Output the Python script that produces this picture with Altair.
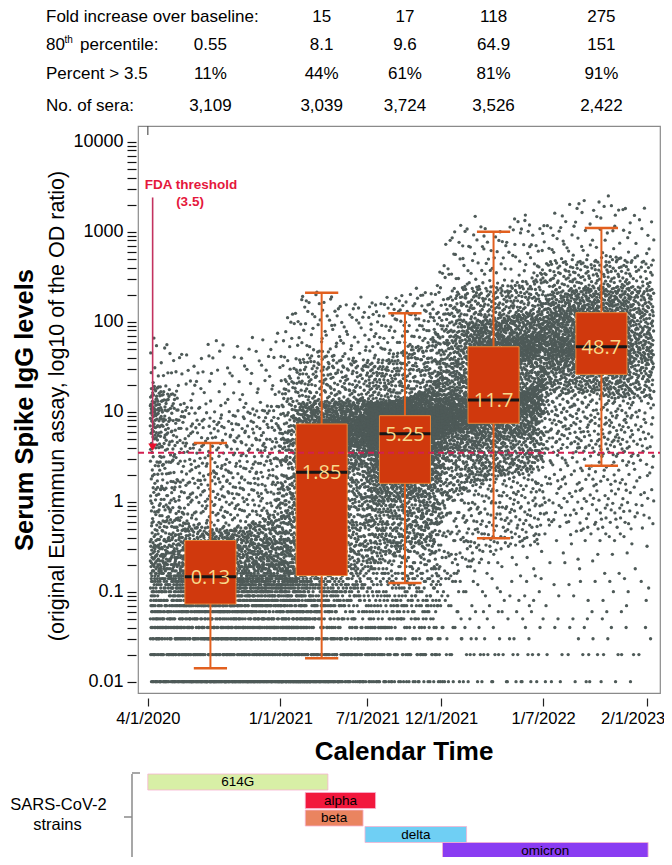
import altair as alt
import numpy as np
import pandas as pd

alt.data_transformers.disable_max_rows()

ORIGIN = pd.Timestamp("2020-04-01")


def to_day(s):
    return float((pd.Timestamp(s) - ORIGIN).days)


# ---------------- summary table above the plot ----------------
fold_increase = ["", "15", "17", "118", "275"]
percentile_80 = ["0.55", "8.1", "9.6", "64.9", "151"]
percent_above = ["11%", "44%", "61%", "81%", "91%"]
n_sera = ["3,109", "3,039", "3,724", "3,526", "2,422"]

# ---------------- box summaries per period ----------------
box_centers = ["2020-08-09", "2021-03-28", "2021-09-17", "2022-03-20", "2022-10-30"]
box_q1 = [0.073, 0.151, 1.6, 7.43, 26.0]
box_median = [0.147, 2.12, 5.7, 13.5, 52.7]
box_q3 = [0.37, 7.3, 9.03, 52.7, 126.0]
whisker_low = [0.0141, 0.0182, 0.125, 0.392, 2.51]
whisker_high = [4.49, 210.0, 124.0, 1000.0, 1100.0]
median_labels = ["0.13", "1.85", "5.25", "11.7", "48.7"]

# ---------------- strains ----------------
strain_names = ["614G", "alpha", "beta", "delta", "omicron"]
strain_start = ["2020-04-01", "2021-02-22", "2021-02-22", "2021-06-26", "2021-12-04"]
strain_end = ["2021-04-10", "2021-07-18", "2021-06-22", "2022-01-23", "2023-02-04"]
strain_colors = ["#d8efa6", "#f2183d", "#ea8460", "#6fcff4", "#8a3cf2"]

# ---------------- axis ticks ----------------
x_tick_dates = ["2020-04-01", "2021-01-01", "2021-07-01", "2021-12-01", "2022-07-01", "2023-02-01"]
x_tick_labels = ["4/1/2020", "1/1/2021", "7/1/2021", "12/1/2021", "1/7/2022", "2/1/2023"]
y_major = [0.01, 0.1, 1, 10, 100, 1000, 10000]
y_major_labels = ["0.01", "0.1", "1", "10", "100", "1000", "10000"]

# ---------------- scatter cloud: monthly distribution ----------------
month_edges = [
    "2020-04-06", "2020-05-01", "2020-06-01", "2020-07-01", "2020-08-01", "2020-09-01",
    "2020-10-01", "2020-11-01", "2020-12-01", "2021-01-01", "2021-02-01", "2021-03-01",
    "2021-04-01", "2021-05-01", "2021-06-01", "2021-07-01", "2021-08-01", "2021-09-01",
    "2021-10-01", "2021-11-01", "2021-12-01", "2022-01-01", "2022-02-01", "2022-03-01",
    "2022-04-01", "2022-05-01", "2022-06-01", "2022-07-01", "2022-08-01", "2022-09-01",
    "2022-10-01", "2022-11-01", "2022-12-01", "2023-01-01", "2023-02-16",
]
month_counts = [320, 340, 340, 340, 350, 350, 350, 350, 369,
                480, 500, 520, 520, 510, 509,
                740, 750, 750, 745, 739,
                500, 510, 510, 500, 500, 500, 506,
                350, 350, 350, 350, 350, 340, 332]
quantile_probs = [0, .03, .1, .2, .3, .4, .5, .6, .7, .8, .9, .97, 1]
month_log10_quantiles = [
    [-2, -1.85, -1.4, -1.1, -0.85, -0.65, -0.4, 0.1, 0.7, 0.95, 1.1, 1.3, 1.9],
    [-2, -1.9, -1.5, -1.2, -0.95, -0.78, -0.6, -0.4, -0.05, 0.6, 1.0, 1.25, 1.8],
    [-2, -2, -1.55, -1.22, -1.05, -0.92, -0.8, -0.62, -0.45, -0.2, 0.6, 1.1, 1.7],
    [-2, -2, -1.6, -1.25, -1.08, -0.95, -0.85, -0.68, -0.5, -0.28, 0.45, 1.05, 1.6],
    [-2, -2, -1.6, -1.25, -1.08, -0.95, -0.85, -0.68, -0.5, -0.3, 0.4, 1.0, 1.9],
    [-2, -2, -1.6, -1.25, -1.08, -0.95, -0.85, -0.68, -0.5, -0.3, 0.4, 1.0, 1.7],
    [-2, -2, -1.6, -1.25, -1.08, -0.95, -0.85, -0.68, -0.48, -0.28, 0.45, 1.05, 1.8],
    [-2, -2, -1.55, -1.22, -1.05, -0.92, -0.8, -0.64, -0.45, -0.22, 0.5, 1.05, 1.9],
    [-2, -2, -1.5, -1.18, -1.0, -0.88, -0.75, -0.58, -0.38, -0.12, 0.6, 1.1, 1.9],
    [-2, -2, -1.5, -1.15, -0.95, -0.8, -0.6, -0.35, 0.0, 0.5, 0.9, 1.4, 2.1],
    [-2, -1.95, -1.4, -1.05, -0.8, -0.5, -0.1, 0.35, 0.65, 0.85, 1.1, 1.6, 2.3],
    [-2, -1.9, -1.3, -0.95, -0.6, -0.1, 0.35, 0.62, 0.78, 0.9, 1.12, 1.7, 2.35],
    [-2, -1.85, -1.25, -0.85, -0.4, 0.15, 0.5, 0.68, 0.8, 0.92, 1.12, 1.65, 2.3],
    [-2, -1.8, -1.15, -0.7, -0.2, 0.3, 0.58, 0.72, 0.83, 0.93, 1.12, 1.6, 2.2],
    [-2, -1.7, -1.05, -0.55, -0.05, 0.4, 0.62, 0.75, 0.85, 0.95, 1.15, 1.6, 2.3],
    [-2, -1.5, -0.7, -0.05, 0.35, 0.6, 0.72, 0.8, 0.88, 0.97, 1.1, 1.55, 2.2],
    [-2, -1.4, -0.6, 0.0, 0.4, 0.63, 0.74, 0.82, 0.9, 0.98, 1.12, 1.6, 2.3],
    [-2, -1.3, -0.55, 0.05, 0.42, 0.65, 0.76, 0.84, 0.92, 1.0, 1.15, 1.7, 2.3],
    [-2, -1.3, -0.5, 0.05, 0.43, 0.66, 0.77, 0.85, 0.93, 1.02, 1.2, 1.75, 2.4],
    [-2, -1.3, -0.5, 0.1, 0.45, 0.68, 0.8, 0.88, 0.95, 1.05, 1.3, 1.85, 2.3],
    [-2, -1.0, 0.0, 0.5, 0.75, 0.88, 0.95, 1.05, 1.2, 1.5, 1.9, 2.3, 3.0],
    [-2, -0.8, 0.1, 0.55, 0.8, 0.92, 1.0, 1.15, 1.4, 1.7, 2.0, 2.4, 3.1],
    [-2, -0.7, 0.2, 0.6, 0.85, 0.98, 1.08, 1.3, 1.6, 1.78, 2.0, 2.4, 3.2],
    [-2, -0.6, 0.25, 0.65, 0.9, 1.02, 1.12, 1.4, 1.66, 1.8, 2.05, 2.4, 3.0],
    [-2, -0.5, 0.3, 0.7, 0.92, 1.05, 1.18, 1.48, 1.68, 1.82, 2.05, 2.4, 3.1],
    [-2, -0.5, 0.3, 0.72, 0.95, 1.1, 1.22, 1.55, 1.7, 1.84, 2.1, 2.45, 3.3],
    [-2, -0.5, 0.35, 0.75, 0.98, 1.15, 1.28, 1.6, 1.72, 1.85, 2.1, 2.5, 3.0],
    [-2, -0.3, 0.6, 1.2, 1.45, 1.62, 1.72, 1.82, 1.98, 2.12, 2.35, 2.7, 3.2],
    [-2, -0.3, 0.6, 1.2, 1.45, 1.62, 1.72, 1.83, 2.0, 2.15, 2.35, 2.7, 3.3],
    [-2, -0.4, 0.55, 1.2, 1.45, 1.62, 1.73, 1.85, 2.02, 2.18, 2.38, 2.7, 3.4],
    [-2, -0.4, 0.5, 1.2, 1.42, 1.6, 1.72, 1.85, 2.02, 2.18, 2.38, 2.7, 3.3],
    [-2, -0.4, 0.5, 1.15, 1.4, 1.58, 1.7, 1.85, 2.02, 2.2, 2.4, 2.75, 3.5],
    [-2, -0.4, 0.5, 1.15, 1.38, 1.56, 1.7, 1.85, 2.02, 2.2, 2.4, 2.7, 3.3],
    [-2, -0.3, 0.5, 1.15, 1.38, 1.56, 1.7, 1.85, 2.02, 2.2, 2.4, 2.75, 3.3],
]


def van_der_corput(idx, base):
    out = np.zeros(len(idx))
    for k, i in enumerate(idx):
        f, r = 1.0, 0.0
        while i > 0:
            f /= base
            r += f * (i % base)
            i //= base
        out[k] = r
    return out


# expand monthly distributions into individual sera: ranks and positions from an even
# (Halton) spread; the monthly quantile profile is blended between neighbouring month
# centres so the cloud changes gradually over time
edges_day = np.array([to_day(d) for d in month_edges])
centres_day = (edges_day[:-1] + edges_day[1:]) / 2
Q = np.array(month_log10_quantiles, dtype=float)
xs_all, ys_all = [], []
for m, n in enumerate(month_counts):
    a, b = edges_day[m], edges_day[m + 1]
    idx = np.arange(n) + 1 + 97 * m
    frac = van_der_corput(idx, 2)
    p = van_der_corput(idx, 3)
    xd = a + frac * (b - a)
    qx = np.stack([np.interp(xd, centres_day, Q[:, j]) for j in range(Q.shape[1])], axis=1)
    logv = np.array([np.interp(p[i], quantile_probs, qx[i]) for i in range(n)])
    vals = np.maximum(0.01, np.round(10 ** logv, 2))
    xs_all.append(np.round(xd, 1))
    ys_all.append(vals)
scatter_df = pd.DataFrame({"day": np.concatenate(xs_all), "value": np.concatenate(ys_all)})

# ---------------- geometry (pixels) ----------------
W, H = 522, 567
BOX_HALF = 53.0
CAP_HALF = 34.5

box_df = pd.DataFrame({
    "center": [to_day(d) for d in box_centers],
    "q1": box_q1, "med": box_median, "q3": box_q3,
    "lo": whisker_low, "hi": whisker_high, "label": median_labels,
})
box_df["left"] = box_df["center"] - BOX_HALF
box_df["right"] = box_df["center"] + BOX_HALF
box_df["capl"] = box_df["center"] - CAP_HALF
box_df["capr"] = box_df["center"] + CAP_HALF

x_scale = alt.Scale(domain=[-20.4, 1063.7], nice=False, zero=False)
y_scale = alt.Scale(type="log", domain=[0.00749, 14940], nice=False)

x_tick_days = [to_day(d) for d in x_tick_dates]
x_label_expr = " : ".join(
    f"abs(datum.value - {d}) < 0.5 ? '{l}'" for d, l in zip(x_tick_days, x_tick_labels)
) + " : ''"
y_all_ticks = sorted(set([round(k * 10.0 ** e, 6) for e in range(-2, 4) for k in range(1, 10)] + [10000.0]))
y_label_expr = " : ".join(
    f"abs(datum.value - {v}) < {v / 1000} ? '{l}'" for v, l in zip(y_major, y_major_labels)
) + " : ''"

FONT = "Liberation Sans"

x_axis = alt.Axis(values=x_tick_days, labelExpr=x_label_expr, title=None, grid=False,
                  domain=False, tickSize=8, tickColor="#222", tickWidth=1.2, offset=5,
                  labelFont=FONT, labelFontSize=16.5, labelColor="black", labelPadding=4,
                  labelOverlap=False, labelFlush=False,
                  labelOffset=alt.condition(f"datum.value > {x_tick_days[-1] - 1}",
                                            alt.value(-14), alt.value(0)))
y_axis = alt.Axis(values=y_all_ticks, labelExpr=y_label_expr, title=None, grid=False,
                  domain=False, tickSize=9, tickColor="#111", tickWidth=1.2, offset=2,
                  labelFont=FONT, labelFontSize=18, labelColor="black", labelPadding=4,
                  labelOverlap=False)


def X(field):
    return alt.X(field, scale=x_scale, axis=x_axis)


def Y(field):
    return alt.Y(field, scale=y_scale, axis=y_axis)


points = alt.Chart(scatter_df).mark_circle(size=11, color="#4e5a58", opacity=1).encode(
    x=X("day:Q"), y=Y("value:Q"))

WHISK = "#e2601f"
base_box = alt.Chart(box_df)
whisk_lo = base_box.mark_rule(color=WHISK, strokeWidth=2).encode(
    x=X("center:Q"), y=Y("lo:Q"), y2="q1:Q")
whisk_hi = base_box.mark_rule(color=WHISK, strokeWidth=2).encode(
    x=X("center:Q"), y=Y("q3:Q"), y2="hi:Q")
cap_lo = base_box.mark_rule(color=WHISK, strokeWidth=2.5).encode(
    x=X("capl:Q"), x2="capr:Q", y=Y("lo:Q"))
cap_hi = base_box.mark_rule(color=WHISK, strokeWidth=2.5).encode(
    x=X("capl:Q"), x2="capr:Q", y=Y("hi:Q"))
boxes = base_box.mark_rect(color="#d0390d", stroke="#e9883a", strokeWidth=1).encode(
    x=X("left:Q"), x2="right:Q", y=Y("q1:Q"), y2="q3:Q")
medians = base_box.mark_rule(color="#161616", strokeWidth=3).encode(
    x=X("left:Q"), x2="right:Q", y=Y("med:Q"))
med_text = base_box.mark_text(font="Open Sans", fontSize=20, color="#f8d98c",
                              align="center", baseline="middle", dy=1).encode(
    x=X("center:Q"), y=Y("med:Q"), text="label:N")

# FDA threshold
thr_df = pd.DataFrame({"thr": [3.5], "day": [10.0], "top": [2400.0], "bottom": [4.3],
                       "head": [4.02], "origin": [0.0]})
thr_line = alt.Chart(thr_df).mark_rule(color="#d21f50", strokeWidth=2, strokeDash=[6, 4]).encode(
    y=Y("thr:Q"), x=alt.value(0), x2=alt.value(W))
fda_line = alt.Chart(thr_df).mark_rule(color="#c3325f", strokeWidth=1.6).encode(
    x=X("day:Q"), y=Y("top:Q"), y2="bottom:Q")
fda_head = alt.Chart(thr_df).mark_point(shape="triangle-down", filled=True, size=75,
                                        color="#e8112d", opacity=1).encode(
    x=X("day:Q"), y=Y("head:Q"))
fda_txt1 = alt.Chart(thr_df).mark_text(text="FDA threshold", font=FONT, fontSize=13.5,
                                       fontWeight="bold", color="#e5173c").encode(
    x=alt.value(53), y=alt.value(59))
fda_txt2 = alt.Chart(thr_df).mark_text(text="(3.5)", font=FONT, fontSize=13.5,
                                       fontWeight="bold", color="#e5173c").encode(
    x=alt.value(52), y=alt.value(76))
top_tick = alt.Chart(thr_df).mark_rule(color="#555", strokeWidth=1.2).encode(
    x=X("origin:Q"), y=alt.value(0), y2=alt.value(9))

# summary table
table_layers = []
row_values = [fold_increase, percentile_80, percent_above, n_sera]
row_y = [-109, -81, -52, -20]
centers = [to_day(d) for d in box_centers]
for vals, yy in zip(row_values, row_y):
    tdf = pd.DataFrame({"center": centers, "txt": vals})
    table_layers.append(
        alt.Chart(tdf).mark_text(font=FONT, fontSize=17, color="black", align="center",
                                 baseline="middle").encode(
            x=X("center:Q"), y=alt.value(yy), text="txt:N"))

lbl_df = pd.DataFrame({"k": [0]})


def label(text, x, y, size=17, weight="normal", align="left", angle=0, font=FONT):
    kw = dict(text=text, font=font, fontSize=size, fontWeight=weight, color="black",
              align=align, baseline="middle")
    if angle:
        kw["angle"] = angle
    return alt.Chart(lbl_df).mark_text(**kw).encode(x=alt.value(x), y=alt.value(y))


row_label_layers = [
    label("Fold increase over baseline:", -92, -109),
    label("80", -92, -81),
    label("th", -73.5, -86, size=10),
    label("percentile:", -58, -81),
    label("Percent > 3.5", -92, -52),
    label("No. of sera:", -92, -20),
]

titles = [
    label("Serum Spike IgG levels", -113, 284, size=25.5, weight="bold", align="center", angle=270),
    label("(original Euroimmun assay, log10 of the OD ratio)", -80, 280, size=21.5,
          align="center", angle=270),
    label("Calendar Time", 266, 626, size=26, weight="bold", align="center"),
    label("SARS-CoV-2", -79.5, 679, size=16.5, align="center"),
    label("strains", -80.5, 699, size=16.5, align="center"),
]

# strain bars
ROW_TOP = [648, 666.5, 684, 700.5, 716.5]
strain_layers = []
for i, name in enumerate(strain_names):
    sdf = pd.DataFrame({"start": [to_day(strain_start[i])], "end": [to_day(strain_end[i])],
                        "name": [name]})
    sdf["mid"] = (sdf["start"] + sdf["end"]) / 2
    strain_layers.append(alt.Chart(sdf).mark_rect(color=strain_colors[i], stroke="#f7b3d0",
                                                  strokeWidth=0.8).encode(
        x=X("start:Q"), x2="end:Q",
        y=alt.value(ROW_TOP[i]), y2=alt.value(ROW_TOP[i] + 16)))
    strain_layers.append(alt.Chart(sdf).mark_text(font=FONT, fontSize=13.5, color="black",
                                                  baseline="middle").encode(
        x=X("mid:Q"), y=alt.value(ROW_TOP[i] + 8), text="name:N"))

# curly brace
BR = "#8a8a8a"
brace = [
    alt.Chart(lbl_df).mark_rule(color=BR, strokeWidth=1.5).encode(
        x=alt.value(-6), y=alt.value(648), y2=alt.value(734)),
    alt.Chart(lbl_df).mark_rule(color=BR, strokeWidth=1.5).encode(
        x=alt.value(-6), x2=alt.value(2), y=alt.value(647)),
    alt.Chart(lbl_df).mark_rule(color=BR, strokeWidth=1.5).encode(
        x=alt.value(-6), x2=alt.value(2), y=alt.value(735)),
    alt.Chart(lbl_df).mark_rule(color=BR, strokeWidth=1.5).encode(
        x=alt.value(-14), x2=alt.value(-6), y=alt.value(691)),
]

chart = alt.layer(
    points, whisk_lo, whisk_hi, cap_lo, cap_hi, boxes, medians, med_text,
    thr_line, fda_line, fda_head, fda_txt1, fda_txt2, top_tick,
    *table_layers, *row_label_layers, *titles, *strain_layers, *brace,
).properties(
    width=W, height=H,
    autosize=alt.AutoSizeParams(type="none"),
    padding={"left": 130, "top": 118, "right": 4, "bottom": 164},
).configure_view(stroke="#8a8a8a", strokeWidth=1.2)

chart.save("out.html", embed_options={"renderer": "svg", "actions": False})
